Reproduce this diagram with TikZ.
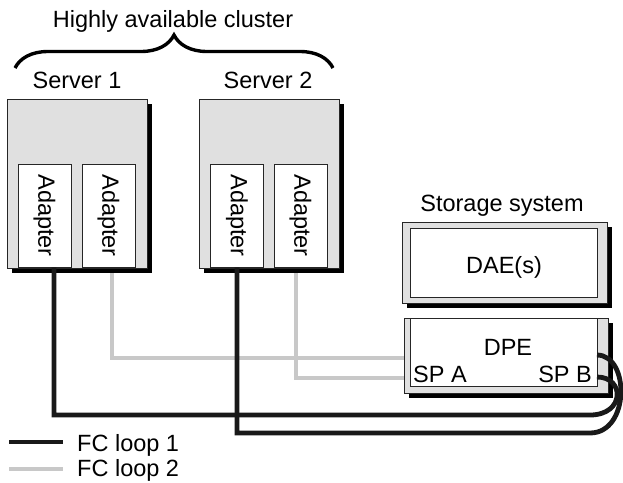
\documentclass[tikz,border=0pt]{standalone}
\usepackage{fontspec}
\setmainfont{Liberation Sans}
\usepackage{xcolor}
\usepackage{tikz}
\usetikzlibrary{decorations.pathreplacing, shadows}

\definecolor{boxgray}{HTML}{E0E0E0}
\definecolor{loopgray}{HTML}{C8C8C8}

\begin{document}
\begin{tikzpicture}[x=1pt, y=-1pt, every node/.style={font=\fontsize{23.5}{28}\selectfont, inner sep=0pt}]
\useasboundingbox (0,0) rectangle (623,482);
\tikzset{
  shadowbox/.style={draw=black!85, line width=0.8pt, fill=boxgray,
    drop shadow={shadow xshift=5pt, shadow yshift=-5pt, fill=black, opacity=1}},
  adapter/.style={draw=black!85, line width=0.8pt, fill=white,
    minimum width=53pt, minimum height=103pt},
  fcone/.style={line width=4.8pt, black!90},
  fctwo/.style={line width=4.8pt, loopgray},
}
% Cluster brace
\draw[line width=3.4pt, decorate, decoration={brace, amplitude=33pt}] (15,68) -- (333,68);
\node[anchor=base] (cluster) at (173,27) {Highly available cluster};

% Server 1
\node[anchor=base] (srv1) at (77,88) {Server 1};
\draw[shadowbox] (7,99) rectangle (147,268);
\node[adapter] (s1a1) at (44.5,215.5) {\rotatebox{-90}{Adapter}};
\node[adapter] (s1a2) at (108.5,215.5) {\rotatebox{-90}{Adapter}};

% Server 2
\node[anchor=base] (srv2) at (268,88) {Server 2};
\draw[shadowbox] (199,99) rectangle (339,268);
\node[adapter] (s2a1) at (237,215.5) {\rotatebox{-90}{Adapter}};
\node[adapter] (s2a2) at (300.5,215.5) {\rotatebox{-90}{Adapter}};

% Storage system
\node[anchor=base] (storage) at (502,211) {Storage system};
\draw[shadowbox] (402,222) rectangle (607,303);
\draw[draw=black!85, line width=0.8pt, fill=white] (410,228) rectangle (597,297);
\node[anchor=base] (dae) at (504,273) {DAE(s)};

% DPE
\draw[shadowbox] (404,318) rectangle (608,393);
\draw[draw=black!85, line width=0.8pt, fill=white] (410,318) rectangle (597,386);
\node[anchor=base] (dpe) at (508,355) {DPE};
\node[anchor=base west] (spa) at (413,382) {SP A};
\node[anchor=base east] (spb) at (592,382) {SP B};
\coordinate (spain1) at (404,358);
\coordinate (spain2) at (404,378);
\coordinate (spbout1) at (597,355);
\coordinate (spbout2) at (597,377);
\coordinate (bend1) at (590,415);
\coordinate (bend2) at (590,433);

% FC loop 2
\draw[fctwo, shorten <=6pt] ([xshift=3.5pt]s1a2.south) |- (spain1);
\draw[fctwo, shorten <=6pt] ([xshift=-4.5pt]s2a2.south) |- (spain2);
% FC loop 1
\draw[fcone] ([xshift=9.5pt]s1a1.south) |- (bend1)
  .. controls +(35,0) and +(28,0) .. (spbout2);
\draw[fcone] (s2a1.south) |- (bend2)
  .. controls +(40,0) and +(33,0) .. (spbout1);

% Legend
\coordinate (leg1start) at (9,442);
\coordinate (leg2start) at (9,469);
\draw[fcone] (leg1start) -- ++(54,0);
\draw[fctwo] (leg2start) -- ++(54,0);
\node[anchor=base west] (leg1) at (77,451) {FC loop 1};
\node[anchor=base west] (leg2) at (77,476) {FC loop 2};
\end{tikzpicture}
\end{document}
